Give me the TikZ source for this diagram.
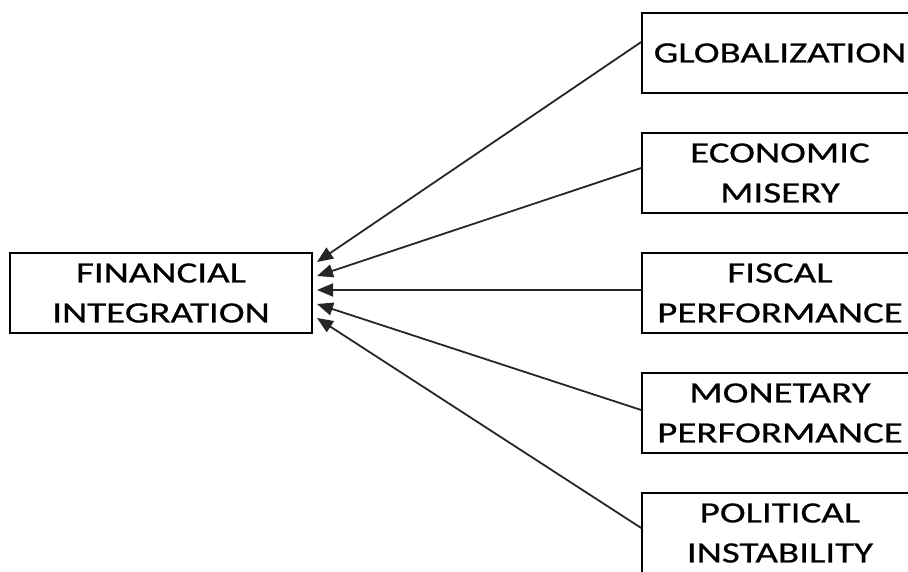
\documentclass[tikz,border=0pt]{standalone}
\usepackage{fontspec}
\setmainfont{Carlito}[FakeStretch=1.32,FakeBold=0.6]
\usetikzlibrary{arrows.meta}
\tikzset{
  box/.style={draw=black, line width=1.6pt, align=center, inner sep=0pt,
    minimum height=80pt, font=\fontsize{29.5}{40}\selectfont},
  rbox/.style={box, minimum width=276pt},
  lbox/.style={box, minimum width=302pt},
  link/.style={draw=black!85, line width=1.8pt, -{Triangle[length=16pt,width=13pt]}}
}
\begin{document}
\begin{tikzpicture}[x=1pt,y=-1pt]
\useasboundingbox (0,0) rectangle (908,572);
\clip (0,0) rectangle (908,572);
\node[lbox] (fi) at (161,293) {FINANCIAL\\INTEGRATION};
\node[rbox] (gl) at (780,53) {GLOBALIZATION};
\node[rbox] (em) at (780,173) {ECONOMIC\\MISERY};
\node[rbox] (fp) at (780,293) {FISCAL\\PERFORMANCE};
\node[rbox] (mp) at (780,413) {MONETARY\\PERFORMANCE};
\node[rbox] (pi) at (780,533) {POLITICAL\\INSTABILITY};
\coordinate (t1) at (317,262);
\coordinate (t2) at (317,276);
\coordinate (t3) at (317,290);
\coordinate (t4) at (317,304);
\coordinate (t5) at (317,318);
\draw[link] ([yshift=11pt]gl.west) -- (t1);
\draw[link] ([yshift=5pt]em.west) -- (t2);
\draw[link] ([yshift=3pt]fp.west) -- (t3);
\draw[link] ([yshift=3pt]mp.west) -- (t4);
\draw[link] ([yshift=5pt]pi.west) -- (t5);
\end{tikzpicture}
\end{document}
